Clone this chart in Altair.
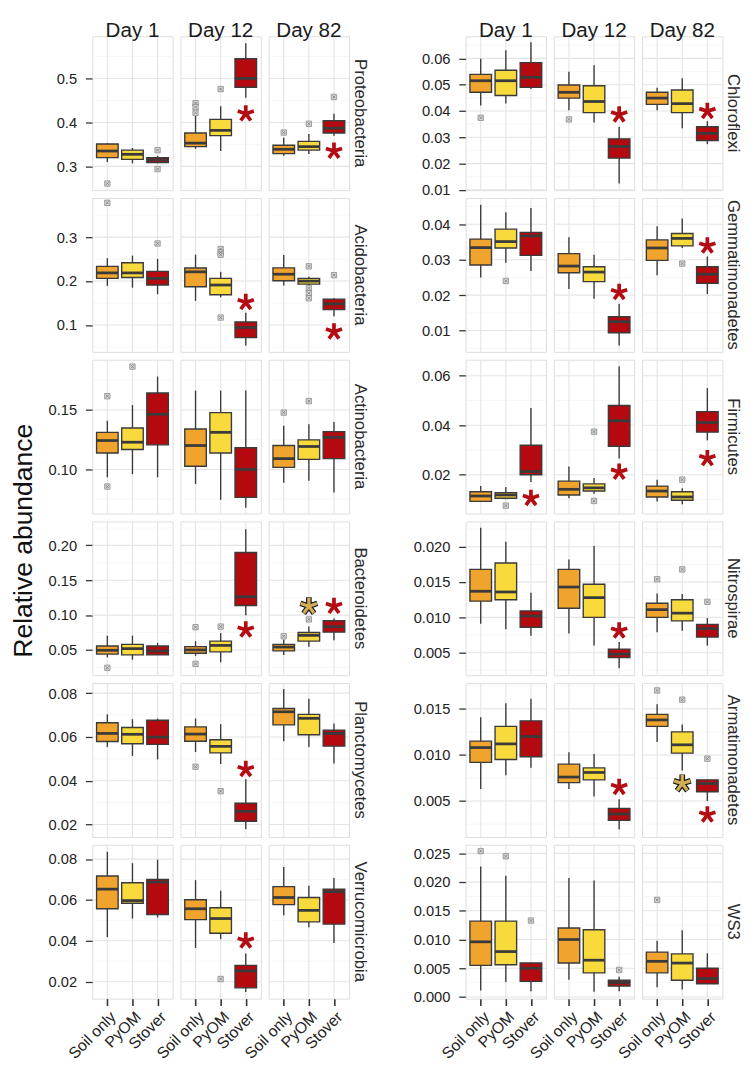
import altair as alt
import pandas as pd

DAYS = ["Day 1", "Day 12", "Day 82"]
TREATMENTS = ["Soil only", "PyOM", "Stover"]
FILLS = ["#F0A32D", "#F8DA3C", "#B40A0F"]

# Each box: (lower whisker, q1, median, q3, upper whisker)
# order: Day 1 (Soil only, PyOM, Stover), Day 12 (...), Day 82 (...)
PROTEO = [
    (0.310, 0.320, 0.335, 0.351, 0.353), (0.307, 0.316, 0.3275, 0.337, 0.342), (0.307, 0.309, 0.315, 0.320, 0.324),
    (0.340, 0.345, 0.353, 0.376, 0.415), (0.335, 0.370, 0.382, 0.407, 0.437), (0.456, 0.480, 0.500, 0.545, 0.580),
    (0.324, 0.329, 0.339, 0.348, 0.365), (0.328, 0.337, 0.345, 0.357, 0.374), (0.370, 0.376, 0.387, 0.404, 0.420),
]
PROTEO_OUT = [(0, 0.261), (2, 0.337), (2, 0.294), (3, 0.444), (3, 0.435), (3, 0.422), (4, 0.476), (6, 0.377), (7, 0.397), (8, 0.458)]

ACIDO = [
    (0.189, 0.206, 0.2186, 0.2335, 0.252), (0.185, 0.208, 0.2186, 0.2416, 0.258), (0.170, 0.191, 0.206, 0.222, 0.2506),
    (0.155, 0.187, 0.221, 0.2297, 0.260), (0.163, 0.169, 0.191, 0.206, 0.221), (0.0535, 0.0714, 0.0944, 0.107, 0.128),
    (0.190, 0.2007, 0.2156, 0.230, 0.2595), (0.190, 0.193, 0.200, 0.206, 0.210), (0.120, 0.135, 0.148, 0.159, 0.161),
]
ACIDO_OUT = [(0, 0.378), (2, 0.2855), (4, 0.273), (4, 0.265), (4, 0.260), (4, 0.117), (7, 0.2335), (7, 0.1836), (7, 0.1725), (7, 0.161), (8, 0.2134)]

ACTINO = [
    (0.0934, 0.1138, 0.1243, 0.1312, 0.141), (0.0961, 0.1168, 0.1229, 0.1348, 0.1541), (0.0934, 0.1207, 0.1464, 0.1643, 0.1782),
    (0.0878, 0.1027, 0.1201, 0.134, 0.1663), (0.0745, 0.1138, 0.1312, 0.1478, 0.1663), (0.0677, 0.0765, 0.100, 0.1182, 0.1663),
    (0.0889, 0.1017, 0.1091, 0.1201, 0.1367), (0.0905, 0.1085, 0.1193, 0.1249, 0.1381), (0.0806, 0.1091, 0.127, 0.1318, 0.140),
]
ACTINO_OUT = [(0, 0.1616), (0, 0.0856), (1, 0.1865), (6, 0.1478), (7, 0.1575)]

BACTERO = [
    (0.0393, 0.044, 0.0495, 0.0556, 0.0705), (0.036, 0.043, 0.0519, 0.0579, 0.0705), (0.043, 0.043, 0.0486, 0.0556, 0.0602),
    (0.0416, 0.0453, 0.05, 0.0547, 0.0626), (0.0323, 0.0472, 0.0565, 0.0626, 0.0742), (0.0998, 0.1138, 0.1263, 0.1897, 0.2232),
    (0.0426, 0.0486, 0.0542, 0.0579, 0.0649), (0.0547, 0.0626, 0.0709, 0.0751, 0.0835), (0.064, 0.0756, 0.0835, 0.0919, 0.0952),
]
BACTERO_OUT = [(0, 0.0244), (3, 0.0826), (3, 0.030), (4, 0.0835), (6, 0.0696), (7, 0.0938)]

PLANCTO = [
    (0.0554, 0.0579, 0.0616, 0.0665, 0.0703), (0.0513, 0.0569, 0.0612, 0.0643, 0.0681), (0.0497, 0.0566, 0.0599, 0.0676, 0.0684),
    (0.0531, 0.058, 0.0613, 0.0646, 0.0684), (0.0476, 0.0527, 0.0557, 0.0587, 0.0658), (0.0178, 0.0215, 0.026, 0.0297, 0.0407),
    (0.058, 0.0655, 0.0715, 0.073, 0.0819), (0.0554, 0.061, 0.0685, 0.0703, 0.0775), (0.0479, 0.0558, 0.0616, 0.0631, 0.0661),
]
PLANCTO_OUT = [(3, 0.0464), (4, 0.0352)]

VERRUCO = [
    (0.0418, 0.0557, 0.0653, 0.0717, 0.0836), (0.0509, 0.0584, 0.0597, 0.0684, 0.078), (0.0514, 0.0529, 0.0688, 0.0701, 0.0797),
    (0.0365, 0.0504, 0.0557, 0.0601, 0.0697), (0.0408, 0.0437, 0.0509, 0.0562, 0.0645), (0.0149, 0.017, 0.0253, 0.028, 0.0338),
    (0.0525, 0.0577, 0.0612, 0.0665, 0.0761), (0.0466, 0.0493, 0.0549, 0.0612, 0.0669), (0.0389, 0.0482, 0.0641, 0.0653, 0.0708),
]
VERRUCO_OUT = [(4, 0.0213)]

CHLORO = [
    (0.0421, 0.0471, 0.0515, 0.0539, 0.0599), (0.0428, 0.0459, 0.0515, 0.0555, 0.0631), (0.0484, 0.049, 0.0528, 0.0584, 0.0661),
    (0.0403, 0.0449, 0.0471, 0.0499, 0.0549), (0.0356, 0.0394, 0.0436, 0.0496, 0.0574), (0.0124, 0.0221, 0.0265, 0.0294, 0.034),
    (0.0403, 0.0425, 0.0449, 0.0471, 0.0488), (0.0334, 0.0394, 0.0428, 0.048, 0.0524), (0.0274, 0.0288, 0.0315, 0.034, 0.0361),
]
CHLORO_OUT = [(0, 0.0374), (3, 0.0368)]

GEMMA = [
    (0.025, 0.0285, 0.0334, 0.0358, 0.0455), (0.0291, 0.0333, 0.0351, 0.0386, 0.0434), (0.0268, 0.0312, 0.0367, 0.0377, 0.0446),
    (0.0217, 0.0263, 0.0282, 0.0317, 0.0363), (0.019, 0.0238, 0.0265, 0.028, 0.0314), (0.0058, 0.0094, 0.0125, 0.0139, 0.0176),
    (0.0256, 0.0298, 0.0333, 0.0356, 0.0394), (0.0333, 0.0339, 0.036, 0.0374, 0.0416), (0.0203, 0.0233, 0.0259, 0.028, 0.0309),
]
GEMMA_OUT = [(1, 0.024), (7, 0.0289)]

FIRMI = [
    (0.0092, 0.0092, 0.0114, 0.0131, 0.0154), (0.0101, 0.0105, 0.0118, 0.0127, 0.015), (0.0171, 0.02, 0.0213, 0.0319, 0.047),
    (0.0105, 0.0118, 0.0141, 0.0174, 0.0233), (0.0123, 0.0134, 0.0147, 0.0163, 0.0187), (0.0266, 0.0315, 0.0418, 0.048, 0.0638),
    (0.0092, 0.011, 0.0134, 0.0154, 0.018), (0.0081, 0.0097, 0.011, 0.0131, 0.0145), (0.0339, 0.0372, 0.0411, 0.0455, 0.055),
]
FIRMI_OUT = [(1, 0.0075), (4, 0.0374), (4, 0.0094), (7, 0.018)]

NITRO = [
    (0.0091, 0.0123, 0.0137, 0.0168, 0.0227), (0.0083, 0.0125, 0.0136, 0.0177, 0.0207), (0.0074, 0.0086, 0.0102, 0.0109, 0.0135),
    (0.0077, 0.0113, 0.0143, 0.0168, 0.0182), (0.006, 0.01, 0.0128, 0.0147, 0.0201), (0.0028, 0.0043, 0.0048, 0.0055, 0.0065),
    (0.0079, 0.01, 0.0111, 0.012, 0.0134), (0.0081, 0.0095, 0.0106, 0.0125, 0.0133), (0.006, 0.0072, 0.0084, 0.009, 0.0099),
]
NITRO_OUT = [(6, 0.0154), (7, 0.0168), (8, 0.0122)]

ARMAT = [
    (0.0063, 0.0092, 0.0108, 0.0115, 0.0141), (0.0078, 0.0095, 0.0112, 0.0131, 0.0156), (0.0086, 0.0098, 0.012, 0.0137, 0.0161),
    (0.0063, 0.007, 0.0076, 0.009, 0.0103), (0.0055, 0.0073, 0.0081, 0.0086, 0.0101), (0.0019, 0.0029, 0.0036, 0.0042, 0.0052),
    (0.0114, 0.0131, 0.0138, 0.0144, 0.0155), (0.0083, 0.0102, 0.0111, 0.0125, 0.0133), (0.005, 0.006, 0.0069, 0.0073, 0.0073),
]
ARMAT_OUT = [(6, 0.017), (7, 0.016), (8, 0.0096)]

WS3 = [
    (0.0011, 0.0055, 0.0096, 0.0132, 0.0227), (0.0026, 0.0056, 0.0079, 0.0132, 0.0211), (0.001, 0.0027, 0.005, 0.0059, 0.006),
    (0.003, 0.0059, 0.010, 0.012, 0.0207), (0.0009, 0.0042, 0.0064, 0.0117, 0.0203), (0.001, 0.0019, 0.0025, 0.0029, 0.0035),
    (0.0017, 0.0042, 0.0062, 0.0078, 0.0098), (0.0013, 0.0029, 0.0059, 0.0075, 0.0116), (0.0023, 0.0023, 0.0032, 0.005, 0.0076),
]
WS3_OUT = [(0, 0.0254), (1, 0.0245), (2, 0.0133), (5, 0.0047), (6, 0.0169)]

# significance asterisks: (taxon, box index, y value, colour kind)
STARS = [
    ("Proteobacteria", 5, 0.420, "red"), ("Proteobacteria", 8, 0.335, "red"),
    ("Acidobacteria", 5, 0.1517, "red"), ("Acidobacteria", 8, 0.0848, "red"),
    ("Bacteroidetes", 5, 0.0789, "red"), ("Bacteroidetes", 7, 0.1128, "gold"), ("Bacteroidetes", 8, 0.1128, "red"),
    ("Planctomycetes", 5, 0.0452, "red"),
    ("Verrucomicrobia", 5, 0.040, "red"),
    ("Chloroflexi", 5, 0.0386, "red"), ("Chloroflexi", 8, 0.0399, "red"),
    ("Gemmatimonadetes", 5, 0.0208, "red"), ("Gemmatimonadetes", 8, 0.0339, "red"),
    ("Firmicutes", 2, 0.0105, "red"), ("Firmicutes", 5, 0.0211, "red"), ("Firmicutes", 8, 0.0266, "red"),
    ("Nitrospirae", 5, 0.0081, "red"),
    ("Armatimonadetes", 5, 0.0065, "red"), ("Armatimonadetes", 7, 0.0069, "gold"), ("Armatimonadetes", 8, 0.0035, "red"),
]

LEFT = ["Proteobacteria", "Acidobacteria", "Actinobacteria", "Bacteroidetes", "Planctomycetes", "Verrucomicrobia"]
RIGHT = ["Chloroflexi", "Gemmatimonadetes", "Firmicutes", "Nitrospirae", "Armatimonadetes", "WS3"]

BOXES = {"Proteobacteria": PROTEO, "Acidobacteria": ACIDO, "Actinobacteria": ACTINO, "Bacteroidetes": BACTERO,
         "Planctomycetes": PLANCTO, "Verrucomicrobia": VERRUCO, "Chloroflexi": CHLORO, "Gemmatimonadetes": GEMMA,
         "Firmicutes": FIRMI, "Nitrospirae": NITRO, "Armatimonadetes": ARMAT, "WS3": WS3}
OUTS = {"Proteobacteria": PROTEO_OUT, "Acidobacteria": ACIDO_OUT, "Actinobacteria": ACTINO_OUT, "Bacteroidetes": BACTERO_OUT,
        "Planctomycetes": PLANCTO_OUT, "Verrucomicrobia": VERRUCO_OUT, "Chloroflexi": CHLORO_OUT, "Gemmatimonadetes": GEMMA_OUT,
        "Firmicutes": FIRMI_OUT, "Nitrospirae": NITRO_OUT, "Armatimonadetes": ARMAT_OUT, "WS3": WS3_OUT}
DOMAINS = {"Proteobacteria": [0.246, 0.596], "Acidobacteria": [0.039, 0.389], "Actinobacteria": [0.0629, 0.1923],
           "Bacteroidetes": [0.0137, 0.2344], "Planctomycetes": [0.0143, 0.0846], "Verrucomicrobia": [0.0117, 0.087],
           "Chloroflexi": [0.0099, 0.0684], "Gemmatimonadetes": [0.004, 0.0474], "Firmicutes": [0.0043, 0.0665],
           "Nitrospirae": [0.0018, 0.0236], "Armatimonadetes": [0.0011, 0.0178], "WS3": [-0.0003, 0.0265]}
TICKS = {"Proteobacteria": [0.3, 0.4, 0.5], "Acidobacteria": [0.1, 0.2, 0.3], "Actinobacteria": [0.10, 0.15],
         "Bacteroidetes": [0.05, 0.10, 0.15, 0.20], "Planctomycetes": [0.02, 0.04, 0.06, 0.08],
         "Verrucomicrobia": [0.02, 0.04, 0.06, 0.08], "Chloroflexi": [0.01, 0.02, 0.03, 0.04, 0.05, 0.06],
         "Gemmatimonadetes": [0.01, 0.02, 0.03, 0.04], "Firmicutes": [0.02, 0.04, 0.06],
         "Nitrospirae": [0.005, 0.010, 0.015, 0.020], "Armatimonadetes": [0.005, 0.010, 0.015],
         "WS3": [0.000, 0.005, 0.010, 0.015, 0.020, 0.025]}
FMT = {"Proteobacteria": ".1f", "Acidobacteria": ".1f", "Actinobacteria": ".2f", "Bacteroidetes": ".2f",
       "Planctomycetes": ".2f", "Verrucomicrobia": ".2f", "Chloroflexi": ".2f", "Gemmatimonadetes": ".2f",
       "Firmicutes": ".2f", "Nitrospirae": ".3f", "Armatimonadetes": ".3f", "WS3": ".3f"}

W, H = 82, 157
GAP = 103  # empty column between the two blocks of panels
FONT = "Liberation Sans"
GRID_MAJOR = "#e4e4e4"
GRID_MINOR = "#f1f1f1"
LINE = "#3a3a3a"
STAR_PATH = "M0,0L0,-1M0,0L-0.951,-0.309M0,0L0.951,-0.309M0,0L-0.588,0.809M0,0L0.588,0.809"
X_PATH = "M-0.55,-0.55L0.55,0.55M0.55,-0.55L-0.55,0.55"


def minor_lines(taxon):
    t = TICKS[taxon]
    step = t[1] - t[0]
    lo, hi = DOMAINS[taxon]
    cands = [t[0] - step / 2] + [v + step / 2 for v in t]
    return [v for v in cands if lo < v < hi]


def panel(taxon, d, top, bottom):
    xs = alt.Scale(type="point", domain=TREATMENTS, padding=0.6)
    ys = alt.Scale(domain=DOMAINS[taxon], nice=False, zero=False)
    if d == 0:
        yaxis = alt.Axis(values=TICKS[taxon], format=FMT[taxon], grid=False, domain=False, ticks=True,
                         tickColor="#333333", tickWidth=1.3, tickSize=7, labelFontSize=15, labelColor="#222222",
                         labelPadding=9, title=None, labelFont=FONT)
    else:
        yaxis = None
    if bottom:
        xaxis = alt.Axis(labelAngle=-45, labelAlign="right", labelBaseline="top", labelFontSize=16,
                         labelColor="#222222", ticks=True, tickSize=7, tickWidth=1.6, tickColor="#333333",
                         domain=False, grid=False, title=None, labelPadding=3, labelFont=FONT)
    else:
        xaxis = None

    X = alt.X("trt:N", scale=xs, axis=xaxis, sort=TREATMENTS)

    def Y(f):
        return alt.Y(f, scale=ys, axis=yaxis)

    box_df = pd.DataFrame([
        dict(trt=TREATMENTS[t], lo=BOXES[taxon][d * 3 + t][0], q1=BOXES[taxon][d * 3 + t][1],
             med=BOXES[taxon][d * 3 + t][2], q3=BOXES[taxon][d * 3 + t][3], hi=BOXES[taxon][d * 3 + t][4])
        for t in range(3)])
    out_df = pd.DataFrame([dict(trt=TREATMENTS[i % 3], v=v) for i, v in OUTS[taxon] if i // 3 == d],
                          columns=["trt", "v"])
    star_df = pd.DataFrame([dict(trt=TREATMENTS[i % 3], v=v, kind=k) for tx, i, v, k in STARS
                            if tx == taxon and i // 3 == d], columns=["trt", "v", "kind"])

    minor = alt.Chart(pd.DataFrame({"v": minor_lines(taxon)})).mark_rule(color=GRID_MINOR, strokeWidth=0.6).encode(
        y=Y("v:Q"))
    major = alt.Chart(pd.DataFrame({"v": TICKS[taxon]})).mark_rule(color=GRID_MAJOR, strokeWidth=1.1).encode(
        y=Y("v:Q"))
    vgrid = alt.Chart(pd.DataFrame({"trt": TREATMENTS})).mark_rule(color=GRID_MAJOR, strokeWidth=1.1).encode(x=X)
    whisk = alt.Chart(box_df).mark_rule(color=LINE, strokeWidth=1.4).encode(x=X, y=Y("lo:Q"), y2="hi:Q")
    boxes = alt.Chart(box_df).mark_bar(size=22, stroke=LINE, strokeWidth=1.4, opacity=1).encode(
        x=X, y=Y("q1:Q"), y2="q3:Q",
        fill=alt.Fill("trt:N", scale=alt.Scale(domain=TREATMENTS, range=FILLS), legend=None))
    med = alt.Chart(box_df).mark_tick(size=22, thickness=2.8, color=LINE, opacity=1).encode(x=X, y=Y("med:Q"))
    layers = [minor, major, vgrid, whisk, boxes, med]
    if len(out_df):
        sq = alt.Chart(out_df).mark_point(shape="square", filled=True, fill="#d6d6d6", stroke="#8a8a8a",
                                          strokeWidth=0.8, size=30, opacity=1).encode(x=X, y=Y("v:Q"))
        xx = alt.Chart(out_df).mark_point(shape=X_PATH, filled=False, stroke="#7a7a7a", strokeWidth=0.8,
                                          size=30, opacity=1).encode(x=X, y=Y("v:Q"))
        layers += [sq, xx]
    if len(star_df):
        red = star_df[star_df.kind == "red"]
        gold = star_df[star_df.kind == "gold"]
        if len(red):
            layers.append(alt.Chart(red).mark_point(shape=STAR_PATH, filled=False, stroke="#B30C12",
                                                    strokeWidth=3.8, size=300, opacity=1).encode(x=X, y=Y("v:Q")))
        if len(gold):
            layers.append(alt.Chart(gold).mark_point(shape=STAR_PATH, filled=False, stroke="#1a1a1a",
                                                     strokeWidth=5.8, size=330, opacity=1).encode(x=X, y=Y("v:Q")))
            layers.append(alt.Chart(gold).mark_point(shape=STAR_PATH, filled=False, stroke="#D3AE55",
                                                     strokeWidth=3.3, size=300, opacity=1).encode(x=X, y=Y("v:Q")))
    if d == 2:
        layers.append(alt.Chart(pd.DataFrame({"lab": [taxon]})).mark_text(
            angle=90, fontSize=17, color="#2a2a2a", font=FONT, align="center", baseline="middle").encode(
            x=alt.value(W + 11), y=alt.value(H / 2), text="lab:N"))
    ch = alt.layer(*layers).properties(width=W, height=H)
    if top:
        ch = ch.properties(title=alt.TitleParams(DAYS[d], fontSize=21, fontWeight="normal", font=FONT,
                                                 color="#1a1a1a", offset=-5, anchor="middle"))
    return ch


def spacer():
    return alt.Chart(pd.DataFrame({"a": [0]})).mark_point(opacity=0).encode(
        x=alt.value(0), y=alt.value(0)).properties(
        width=GAP, height=H, view=alt.ViewBackground(stroke="transparent", fill="transparent"))


cells = []
for r in range(6):
    for d in range(3):
        cells.append(panel(LEFT[r], d, r == 0, r == 5))
    cells.append(spacer())
    for d in range(3):
        cells.append(panel(RIGHT[r], d, r == 0, r == 5))

chart = alt.concat(
    *cells, columns=7, spacing=8, bounds="flush", align="each",
    title=alt.TitleParams("Relative abundance", orient="left", anchor="middle", fontSize=27,
                          fontWeight="normal", font=FONT, color="#111111", offset=10)
).properties(
    padding={"left": 2, "top": 0, "right": 0, "bottom": 0}
).configure_view(stroke="#a3a3a3", strokeWidth=1.1).configure(font=FONT)

chart.save("out.html", embed_options={"renderer": "svg", "actions": False})
